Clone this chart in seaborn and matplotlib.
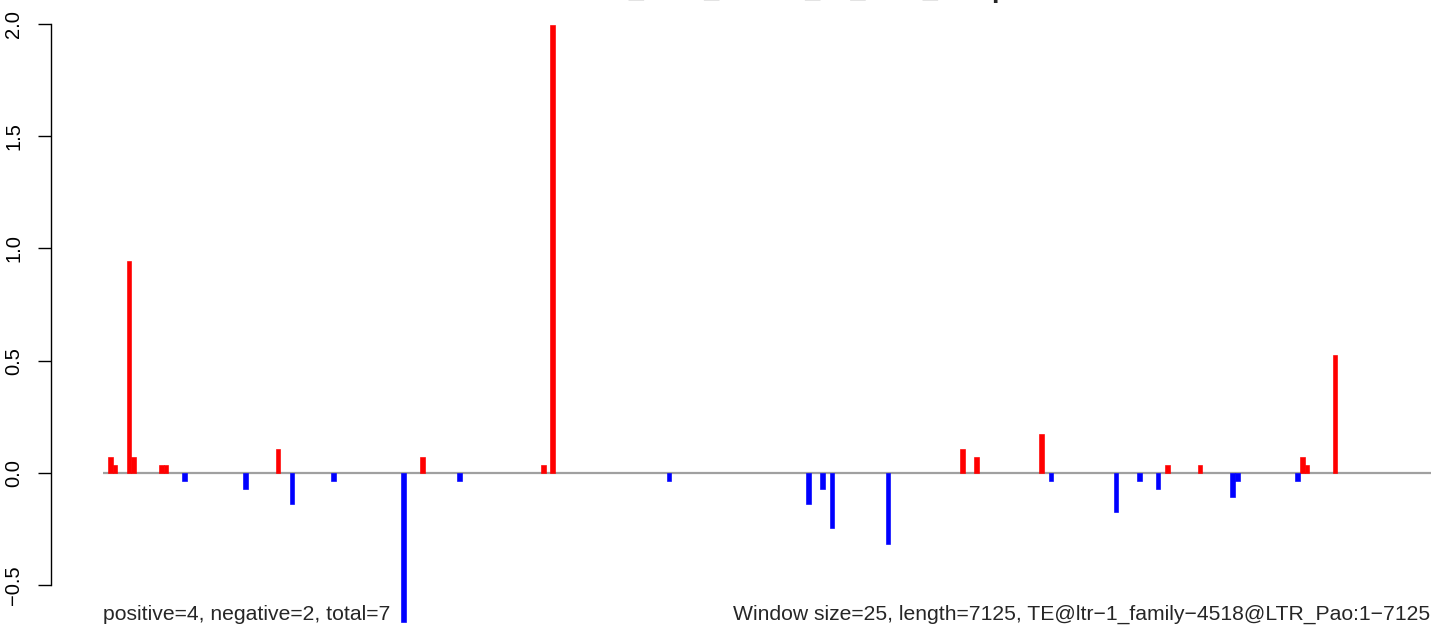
import numpy as np
import pandas as pd
import matplotlib
matplotlib.use('Agg')
import matplotlib.pyplot as plt
import seaborn as sns

# window size / sequence length
win_size = 25
seq_len = 7125

# 1-based start of each non-empty window and its score
window_start = [26, 51, 126, 151, 301, 326, 426, 751, 926, 1001, 1226, 1601, 1701,
                1901, 2351, 2401, 3026, 3776, 3851, 3901, 4201, 4601, 4676, 5026,
                5076, 5426, 5551, 5651, 5701, 5876, 6051, 6076, 6401, 6426, 6451, 6601]
score = [0.07, 0.035, 0.945, 0.07, 0.035, 0.035, -0.035, -0.07, 0.105, -0.14, -0.035,
         -0.665, 0.07, -0.035, 0.035, 1.995, -0.035, -0.14, -0.07, -0.245, -0.315,
         0.105, 0.07, 0.175, -0.035, -0.175, -0.035, -0.07, 0.035, 0.035, -0.105,
         -0.035, -0.035, 0.07, 0.035, 0.525]

y_ticks = [-0.5, 0.0, 0.5, 1.0, 1.5, 2.0]
y_tick_labels = ['\u22120.5', '0.0', '0.5', '1.0', '1.5', '2.0']

title = 'NRPE1_CHG_mean1_vs_WT2_sample'
left_note = 'positive=4, negative=2, total=7'
right_note = ('Window size=25, length=7125, '
              'TE@ltr\u22121_family\u22124518@LTR_Pao:1\u22127125')

df = pd.DataFrame({'start': window_start, 'score': score})
df['center'] = df['start'] - 1 + win_size / 2
df['sign'] = np.where(df['score'] > 0, 'pos', 'neg')

sns.set_style('white')
plt.rcParams['font.family'] = ['Liberation Sans', 'DejaVu Sans']

fig = plt.figure(figsize=(14.44, 6.34), dpi=100)
ax = fig.add_axes([0, 0, 1, 1])
ax.set_facecolor('white')

# zero line under the bars
ax.hlines(0, 0, seq_len, color='#a0a0a0', lw=1.6, zorder=1)

sns.barplot(data=df, x='center', y='score', hue='sign',
            palette={'pos': '#FF0000', 'neg': '#0000FF'}, saturation=1,
            native_scale=True, width=1, dodge=False, linewidth=0,
            errorbar=None, legend=False, ax=ax, zorder=3)
# crisp edges like the R device
for p in ax.patches:
    p.set_edgecolor(p.get_facecolor())
    p.set_linewidth(0.45)

# pixel layout of the original R device
ax.set_xlim(-554.5, 7197.4)
ax.set_ylim(-0.7165, 2.105)
ax.set_xlabel('')
ax.set_ylabel('')
ax.set_xticks([])

for s in ['top', 'right', 'bottom']:
    ax.spines[s].set_visible(False)
ax.spines['left'].set_position(('data', -282.4))
ax.spines['left'].set_bounds(-0.5, 2.0)
ax.spines['left'].set_color('black')
ax.spines['left'].set_linewidth(1.0)

ax.set_yticks(y_ticks)
ax.set_yticklabels(y_tick_labels)
ax.tick_params(axis='y', direction='out', length=9.6, width=1.0, pad=10,
               labelsize=14.5, left=True, colors='black')
for lab in ax.get_yticklabels():
    lab.set_rotation(90)
    lab.set_va('center')

ax.text(0, -0.655, left_note, ha='left', va='baseline', fontsize=15.25)
ax.text(seq_len, -0.655, right_note, ha='right', va='baseline', fontsize=15.25)

# title sits above the visible area, only its lowest strokes show
fig.text(785 / 1444, 1 + 2.8 / 634, title, ha='center', va='baseline',
         fontsize=19.5, fontweight='bold')

fig.savefig('out.png', dpi=100)
